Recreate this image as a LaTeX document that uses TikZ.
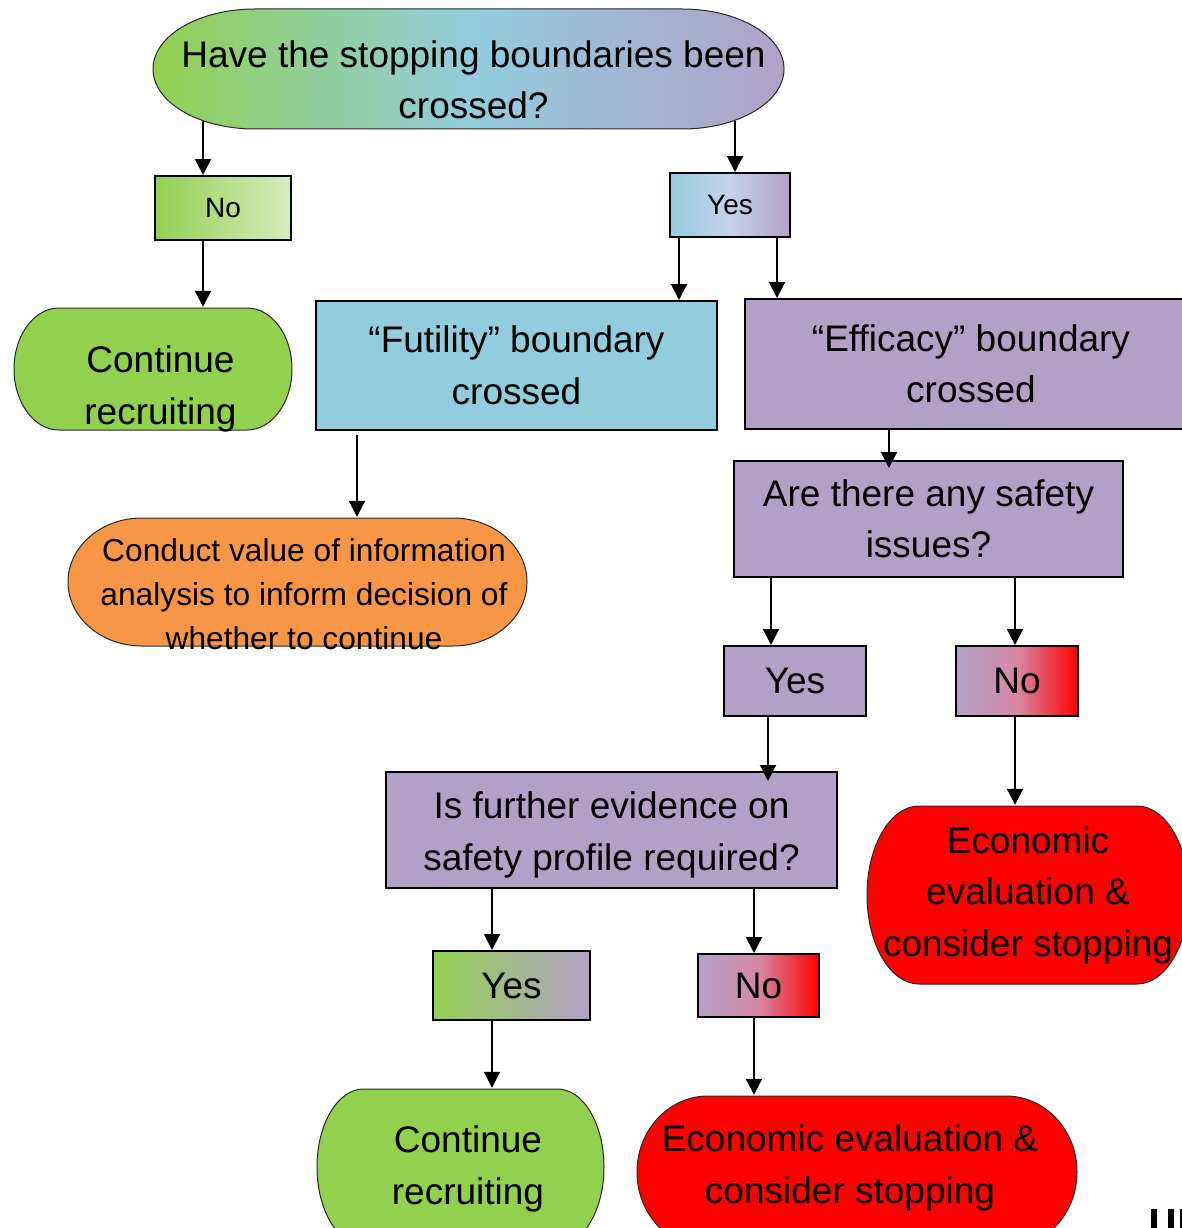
\documentclass[tikz,border=0pt]{standalone}
\usepackage{fontspec}
\setmainfont{Liberation Sans}
\usetikzlibrary{arrows.meta,calc}
\definecolor{cGreen}{RGB}{146,208,80}
\definecolor{cGreenL}{RGB}{215,236,190}
\definecolor{cBlue}{RGB}{146,205,221}
\definecolor{cLav}{RGB}{198,210,236}
\definecolor{cPurple}{RGB}{178,161,199}
\definecolor{cOrange}{RGB}{247,150,70}
\definecolor{cRed}{RGB}{255,0,0}
\definecolor{cPink}{RGB}{214,136,164}
\definecolor{cEdge}{RGB}{40,40,40}
\begin{document}
\begin{tikzpicture}[x=1pt,y=-1pt,
  big/.style={font=\fontsize{37}{51.5}\selectfont},
  mid/.style={font=\fontsize{31.7}{44}\selectfont},
  small/.style={font=\fontsize{28}{32}\selectfont},
  box/.style={draw=black, line width=2pt, inner sep=0pt, align=center},
  txt/.style={inner sep=0pt, align=center},
  term/.style n args={3}{shape=rectangle, fill=white, inner sep=0pt, align=center,
    path picture={
      \path[#3, draw=cEdge, line width=1pt]
        ([shift={(#1+1pt,-1pt)}]path picture bounding box.north west)
        -- ([shift={(-#1-1pt,-1pt)}]path picture bounding box.north east)
        arc[start angle=90, end angle=-90, x radius=#1, y radius=#2]
        -- ([shift={(#1+1pt,1pt)}]path picture bounding box.south west)
        arc[start angle=270, end angle=90, x radius=#1, y radius=#2]
        -- cycle;
    }},
  arr/.style={-{Triangle[length=16pt,width=16pt]}, line width=2pt}
]
\useasboundingbox[fill=white] (0,0) rectangle (1182,1228);

% ---- nodes ----
\node[term={102pt}{60pt}{left color=cGreen,right color=cPurple,middle color=cBlue},
      minimum width=633pt, minimum height=122pt] (q1) at (468.5,69) {};
\node[txt, big] (q1t) at ([xshift=5pt,yshift=-11pt]q1.center) {Have the stopping boundaries been\\crossed?};

\node[box, small, left color=cGreen, right color=cGreenL, minimum width=136pt, minimum height=64pt] (no1) at (223,208) {No};
\node[box, small, left color=cBlue, right color=cPurple, middle color=cLav, minimum width=120pt, minimum height=64pt] (yes1) at (730,205) {Yes};

\node[term={45pt}{61pt}{fill=cGreen}, minimum width=280pt, minimum height=124pt] (cr1) at (153,369) {};
\node[txt, big] (cr1t) at ([xshift=7.5pt,yshift=-20pt]cr1.center) {Continue\\recruiting};

\node[box, big, fill=cBlue, minimum width=401pt, minimum height=129pt] (fut) at (516.5,365.5) {“Futility” boundary\\crossed};
\node[box, big, fill=cPurple, minimum width=452pt, minimum height=130pt] (eff) at (971,364) {“Efficacy” boundary\\crossed};

\node[term={74pt}{64pt}{fill=cOrange}, minimum width=461pt, minimum height=130pt] (cva) at (297.5,582) {};
\node[txt, mid] (cvat) at ([xshift=6.5pt,yshift=-12pt]cva.center) {Conduct value of information\\analysis to inform decision of\\whether to continue};

\node[box, big, fill=cPurple, minimum width=389pt, minimum height=116pt] (saf) at (928.5,519) {Are there any safety\\issues?};

\node[box, big, fill=cPurple, minimum width=142pt, minimum height=70pt] (yes2) at (795,681) {Yes};
\node[box, big, left color=cPurple, right color=cRed, middle color=cPink, minimum width=122pt, minimum height=70pt] (no2) at (1017,681) {No};

\node[term={52pt}{89pt}{fill=cRed}, big, minimum width=324pt, minimum height=180pt] (ec1) at (1028,895) {Economic\\evaluation \&\\consider stopping};

\node[box, fill=cPurple, minimum width=451pt, minimum height=116pt] (fe) at (611.5,830) {};
\node[txt, big] (fet) at ([yshift=-5pt]fe.center) {Is further evidence on\\safety profile required?};

\node[box, big, left color=cGreen, right color=cPurple, minimum width=157pt, minimum height=69pt] (yes3) at (511.5,985.5) {Yes};
\node[box, big, left color=cPurple, right color=cRed, middle color=cPink, minimum width=121pt, minimum height=63pt] (no3) at (758.5,985.5) {No};

\node[term={46.5pt}{78pt}{fill=cGreen}, minimum width=289pt, minimum height=158pt] (cr2) at (460.5,1167) {};
\node[txt, big] (cr2t) at ([xshift=7.5pt,yshift=-2pt]cr2.center) {Continue\\recruiting};

\node[term={71pt}{76pt}{fill=cRed}, minimum width=442pt, minimum height=154pt] (ec2) at (857,1172) {};
\node[txt, big] (ec2t) at ([xshift=-7pt,yshift=4pt]ec2.center) {Economic evaluation \&\\consider stopping};

% ---- connector x positions ----
\coordinate (c1) at ([xshift=-20pt]no1.north);
\coordinate (c2) at ([xshift=5pt]yes1.north);
\coordinate (c3) at ([xshift=-20pt]no1.south);
\coordinate (c4) at ([xshift=-51pt]yes1.south);
\coordinate (c5) at ([xshift=47pt]yes1.south);
\coordinate (c6) at ([xshift=-159.5pt]fut.south);
\coordinate (c7) at ([xshift=-39.5pt]saf.north);
\coordinate (c8) at ([xshift=-24pt]yes2.north);
\coordinate (c9) at ([xshift=-2pt]no2.north);
\coordinate (c10) at ([xshift=-27pt]yes2.south);
\coordinate (c11) at ([xshift=-2pt]no2.south);
\coordinate (c12) at ([xshift=-19.5pt]yes3.north);
\coordinate (c13) at ([xshift=-4.5pt]no3.north);
\coordinate (c14) at ([xshift=-19.5pt]yes3.south);
\coordinate (c15) at ([xshift=-4.5pt]no3.south);

% ---- connectors ----
\draw[arr] ($(c1 |- q1.south)+(0,-9)$) -- (c1);
\draw[arr] ($(c2 |- q1.south)+(0,-9)$) -- (c2);
\draw[arr] (c3) -- (c3 |- cr1.north);
\draw[arr] (c4) -- (c4 |- fut.north);
\draw[arr] (c5) -- (c5 |- eff.north);
\draw[arr] ($(c6)+(0,4)$) -- (c6 |- cva.north);
\draw[arr] (c7 |- eff.south) -- ($(c7)+(0,8)$);
\draw[arr] (c8 |- saf.south) -- (c8);
\draw[arr] (c9 |- saf.south) -- (c9);
\draw[arr] (c10) -- ($(c10 |- fe.north)+(0,10)$);
\draw[arr] (c11) -- (c11 |- ec1.north);
\draw[arr] (c12 |- fe.south) -- (c12);
\draw[arr] (c13 |- fe.south) -- (c13);
\draw[arr] (c14) -- (c14 |- cr2.north);
\draw[arr] (c15) -- (c15 |- ec2.north);

% ---- cut-off fragment at bottom right ----
\fill[black] (1151,1209) rectangle (1157,1228);
\fill[black] (1168,1209) rectangle (1174,1228);
\fill[black] (1180,1209) rectangle (1186,1228);
\end{tikzpicture}
\end{document}
